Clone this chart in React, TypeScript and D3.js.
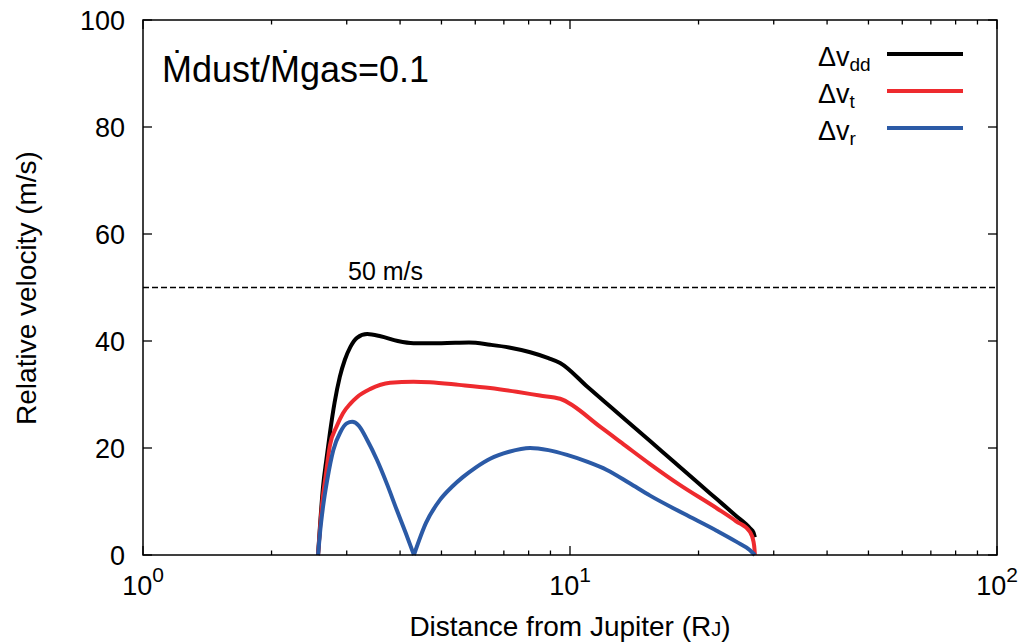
import React from "react";
import * as d3 from "d3";

const W = 1021;
const H = 642;

const distBlack = [2.57, 2.6, 2.64, 2.69, 2.74, 2.81, 2.89, 2.97, 3.06, 3.17, 3.35, 3.6, 3.95, 4.3, 5.0, 5.8, 6.5, 7.2, 8.07, 8.9, 9.48, 11.0, 12.4, 15.4, 17.4, 20.0, 22.1, 24.5, 26.4, 26.9, 27.1];
const velBlack = [0, 6, 12.7, 18, 22.8, 28.5, 33.3, 36.5, 38.9, 40.6, 41.3, 40.9, 40.0, 39.6, 39.6, 39.7, 39.3, 38.8, 37.9, 36.8, 35.9, 31.4, 27.8, 21.3, 17.6, 13.4, 10.4, 7.3, 5.0, 4.2, 3.3];

const distRed = [2.57, 2.6, 2.63, 2.68, 2.74, 2.84, 2.94, 3.06, 3.17, 3.4, 3.79, 4.3, 4.7, 5.5, 6.5, 7.5, 8.5, 9.48, 11.8, 13.5, 15.4, 18.0, 22.1, 24.5, 26.4, 26.9, 27.05, 27.1];
const velRed = [0, 5.5, 10, 15, 20.5, 24, 26.5, 28.3, 29.5, 31.0, 32.2, 32.4, 32.3, 31.8, 31.2, 30.5, 29.8, 29.2, 23.9, 20.4, 17.0, 13.2, 8.7, 6.3, 4.3, 2.5, 1.0, 0];

const distBlue = [2.57, 2.6, 2.64, 2.7, 2.79, 2.9, 3.0, 3.09, 3.2, 3.35, 3.53, 3.73, 3.93, 4.12, 4.31, 4.6, 4.96, 5.3, 5.62, 6.0, 6.5, 7.2, 8.06, 8.9, 9.84, 11.0, 12.2, 13.8, 15.4, 18.5, 22.1, 24.5, 26.4, 27.1];
const velBlue = [0, 4.5, 9, 14, 19.6, 23, 24.6, 24.9, 24.2, 21.5, 17.8, 13.2, 8.4, 4.2, 0, 6, 10.3, 12.8, 14.6, 16.3, 18.0, 19.3, 20.0, 19.6, 18.7, 17.4, 15.9, 13.4, 11.1, 7.7, 4.5, 2.5, 0.9, 0];

const yTicks = [0, 20, 40, 60, 80, 100];
const xMajor = [1, 10, 100];
const xMajorExp = ["0", "1", "2"];
const thresholdValue = 50;
const thresholdLabel = "50 m/s";

const seriesNames = ["dd", "t", "r"];
const seriesColors = ["#000000", "#ee2a2e", "#2b5aa6"];

const left = 143, right = 997, top = 20, bottom = 555;
const FONT = "'Liberation Sans', Arial, Helvetica, sans-serif";

export default function App() {
  const x = d3.scaleLog().domain([1, 100]).range([left, right]);
  const y = d3.scaleLinear().domain([0, 100]).range([bottom, top]);

  const series = [
    { d: distBlack, v: velBlack, c: seriesColors[0] },
    { d: distRed, v: velRed, c: seriesColors[1] },
    { d: distBlue, v: velBlue, c: seriesColors[2] },
  ];

  const line = d3
    .line<[number, number]>()
    .x((p) => x(p[0]))
    .y((p) => y(p[1]))
    .curve(d3.curveMonotoneX);

  const paths = series.map((s) => {
    const pts: [number, number][] = s.d.map((dv, i) => [dv, s.v[i]]);
    const segs: [number, number][][] = [];
    let cur: [number, number][] = [];
    pts.forEach((p, i) => {
      cur.push(p);
      if (p[1] === 0 && i > 0 && i < pts.length - 1) {
        segs.push(cur);
        cur = [p];
      }
    });
    segs.push(cur);
    return { c: s.c, ds: segs.map((sg) => line(sg) as string) };
  });

  const minor: number[] = [];
  [1, 10].forEach((dec) => {
    for (let k = 2; k <= 9; k++) minor.push(dec * k);
  });

  const majLen = 9;
  const minLen = 4.5;

  return (
    <svg
      width={W}
      height={H}
      style={{ position: "absolute", left: 0, top: 0, background: "#fff" }}
      fontFamily={FONT}
    >
      <rect x={0} y={0} width={W} height={H} fill="#fff" />

      <line
        x1={left}
        x2={right}
        y1={y(thresholdValue)}
        y2={y(thresholdValue)}
        stroke="#000"
        strokeWidth={1.5}
        strokeDasharray="6,3"
      />
      <text x={348} y={y(thresholdValue) - 8} fontSize={25} fill="#000">
        {thresholdLabel}
      </text>

      {yTicks.map((t) => (
        <g key={"y" + t}>
          <line x1={left} x2={left + majLen} y1={y(t)} y2={y(t)} stroke="#000" strokeWidth={1.3} />
          <line x1={right} x2={right - majLen} y1={y(t)} y2={y(t)} stroke="#000" strokeWidth={1.3} />
          <text x={left - 18} y={y(t) + 10} fontSize={27} textAnchor="end" fill="#000">
            {t}
          </text>
        </g>
      ))}

      {xMajor.map((t, i) => (
        <g key={"x" + t}>
          <line x1={x(t)} x2={x(t)} y1={bottom} y2={bottom - majLen} stroke="#000" strokeWidth={1.3} />
          <line x1={x(t)} x2={x(t)} y1={top} y2={top + majLen} stroke="#000" strokeWidth={1.3} />
          <text x={x(t)} y={595} fontSize={27} textAnchor="middle" fill="#000">
            10
            <tspan fontSize={21} dy={-13}>
              {xMajorExp[i]}
            </tspan>
          </text>
        </g>
      ))}
      {minor.map((t) => (
        <g key={"m" + t}>
          <line x1={x(t)} x2={x(t)} y1={bottom} y2={bottom - minLen} stroke="#000" strokeWidth={1.3} />
          <line x1={x(t)} x2={x(t)} y1={top} y2={top + minLen} stroke="#000" strokeWidth={1.3} />
        </g>
      ))}

      {paths.map((p, i) =>
        p.ds.map((d, j) => (
          <path key={i + "-" + j} d={d} fill="none" stroke={p.c} strokeWidth={4} strokeLinejoin="round" />
        ))
      )}

      <rect x={left} y={top} width={right - left} height={bottom - top} fill="none" stroke="#000" strokeWidth={1.5} />

      <text x={162} y={82} fontSize={36} fill="#000">
        Ṁdust/Ṁgas=0.1
      </text>

      {seriesNames.map((n, i) => {
        const ly = 54 + i * 37;
        return (
          <g key={"lg" + n}>
            <text x={818} y={ly + 12} fontSize={27} fill="#000">
              Δv
              <tspan fontSize={19} dy={5}>
                {n}
              </tspan>
            </text>
            <line x1={887} x2={963} y1={ly} y2={ly} stroke={seriesColors[i]} strokeWidth={4} />
          </g>
        );
      })}

      <text x={570} y={636} fontSize={28} textAnchor="middle" fill="#000">
        Distance from Jupiter (R<tspan fontSize={20}>J</tspan>)
      </text>
      <text transform={`translate(36, 288) rotate(-90)`} fontSize={28} textAnchor="middle" fill="#000">
        Relative velocity (m/s)
      </text>
    </svg>
  );
}
